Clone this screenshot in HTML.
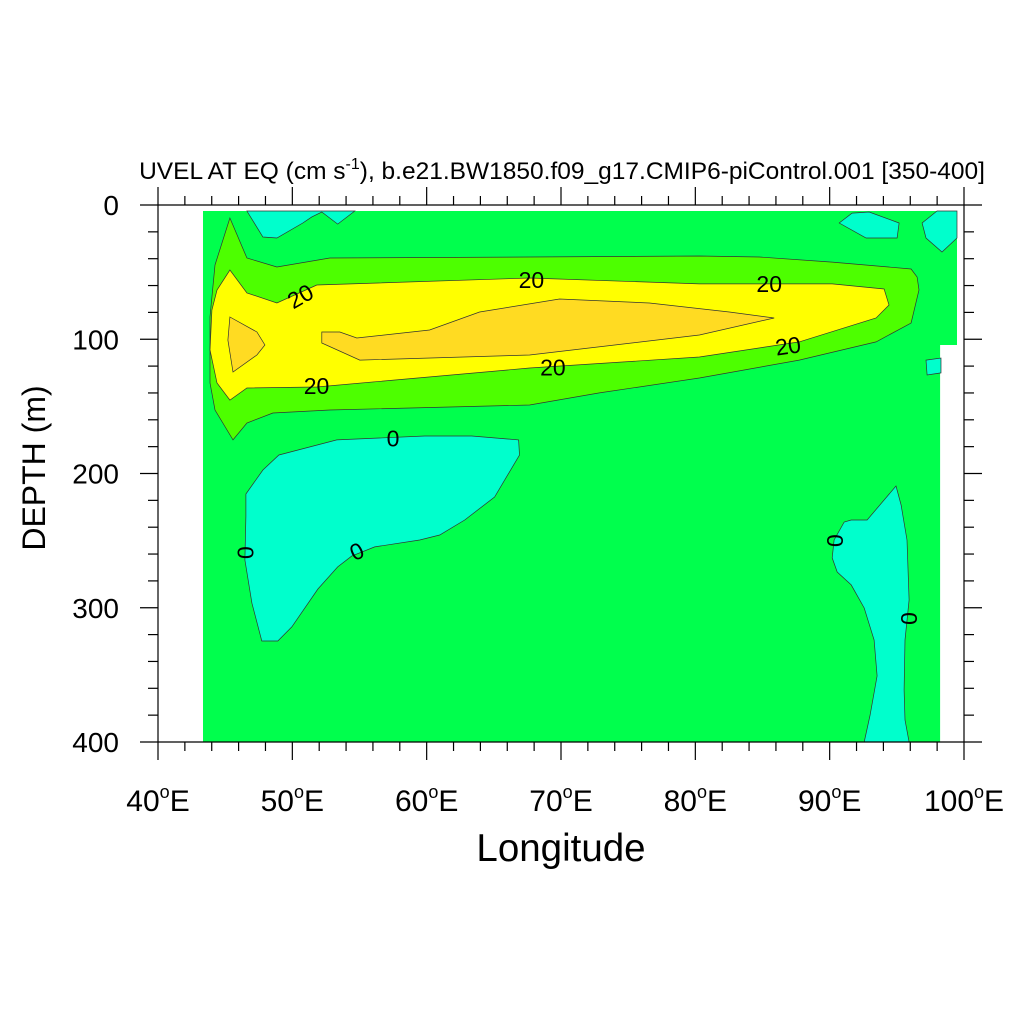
<!DOCTYPE html>
<html><head><meta charset="utf-8"><style>
body{margin:0;background:#fff}
svg{display:block;font-family:"Liberation Sans",sans-serif}
</style></head><body>
<svg id="chart" width="1024" height="1024" viewBox="0 0 1024 1024">
<rect width="1024" height="1024" fill="#fff"/>
<g id="fills"></g>
<g id="labels"></g>
<g id="axes"></g>
<text x="562" y="179" font-size="24.5" text-anchor="middle">UVEL AT EQ (cm s<tspan dy="-10" font-size="16">-1</tspan><tspan dy="10">), b.e21.BW1850.f09_g17.CMIP6-piControl.001 [350-400]</tspan></text>
<text x="561" y="861" font-size="38.5" text-anchor="middle">Longitude</text>
<text transform="translate(45,468) rotate(-90)" font-size="32" text-anchor="middle">DEPTH (m)</text>
</svg>
<script>
const xTicks=[40,50,60,70,80,90,100];
const yTicks=[0,100,200,300,400];
const oceanLon=[43.35,99.48,99.48,98.22,98.22,43.35];
const oceanDep=[4.5,4.5,104.3,104.3,400,400];
const lightGreenLon=[45.35,46.62,48.85,52.79,67.66,80.3,84.76,90.19,96.06,96.51,96.65,96.06,93.46,87.73,80.3,72.86,67.66,52.79,48.55,46.62,45.58,44.24,43.87,43.87,44.24];
const lightGreenDep=[9.7,39.5,46.2,39.5,38.7,38,38.7,42.5,47.7,53.6,63.3,87.9,102,115.5,128.9,140,149,152.7,154.9,162.4,175,152.7,132.6,83.4,44.7];
const yellowLon=[45.35,46.62,48.85,51.82,67.66,80.3,90.19,94.05,94.42,93.46,87.73,80.3,67.66,51.82,46.62,45.35,44.39,43.87,44.01,44.39];
const yellowDep=[48.4,65.5,73,59.6,54.4,58.8,58.8,62.6,74.5,84.2,102,113.2,121.4,135.6,136.3,145.3,132.6,108,78.2,63.3];
const orangeLon=[52.19,53.53,54.8,60.22,63.94,69.89,76.58,82.53,85.87,80.3,67.66,55.02,52.19];
const orangeDep=[94.6,94.6,99.1,93.1,79.7,70,73,79.7,84.2,96.8,111.7,115.5,102.8];
const orange2Lon=[45.35,47.36,47.96,47.36,45.58,45.2];
const orange2Dep=[83.4,94.6,104.3,111.7,124.4,100.6];
const cyanTLLon=[46.62,47.81,48.85,50.78,51.45,52.19,53.38,54.65];
const cyanTLDep=[4.5,23.8,24.6,13.4,8.9,5.2,14.2,4.5];
const cyanTR1Lon=[90.71,91.67,92.94,95.17,95.02,92.71];
const cyanTR1Dep=[13.4,6,5.2,13.4,24.6,24.6];
const cyanTR2Lon=[97.99,96.88,97.17,98.36,99.48,99.48];
const cyanTR2Dep=[4.5,13.4,24.6,35,24.6,4.5];
const cyanSmLon=[97.17,98.29,98.29,97.25];
const cyanSmDep=[115.5,114,125.1,126.6];
const cyanLLLon=[47.73,48.92,49.96,51.9,53.38,54.42,56.13,59.48,60.97,62.83,65.06,66.91,66.84,63.35,59.85,53.31,49.0,47.81,46.54,46.54,46.47,46.99];
const cyanLLDep=[324.8,324.8,314.3,286,269.6,261.5,254.7,249.5,245.8,234.6,217.5,186.2,175,172.1,172.1,175,186.2,197.4,215.3,231.7,264.4,296.5];
const cyanLRLon=[92.57,93.01,93.53,93.31,92.57,91.6,90.56,90.19,90.33,91.08,91.6,92.79,94.94,95.32,95.76,95.91,95.61,95.54,95.61,95.91];
const cyanLRDep=[400,379.9,350.8,324,300.2,283,273.4,262.9,249.5,236.1,234.6,234.6,209.3,223.5,249.5,294.2,324,361.3,383.6,400];
const labelText=["20","20","20","20","20","20","0","0","0","0","0"];
const labelLon=[50.6,67.8,85.5,51.8,69.4,86.9,57.5,46.5,54.8,90.4,95.9];
const labelDep=[68,56,59,135,121,105,174,259,258,250,308];
const labelRot=[-30,0,0,0,0,-8,0,90,-25,90,90];

const X0=158,X1=964,Y0=205,Y1=742;
const sx=l=>X0+(l-40)/60*(X1-X0);
const sy=d=>Y0+d/400*(Y1-Y0);
const NS="http://www.w3.org/2000/svg";
const fills=document.getElementById('fills');
function poly(lons,deps,color,name,stroke){
  const p=document.createElementNS(NS,'polygon');
  p.setAttribute('points',lons.map((l,i)=>sx(l).toFixed(1)+','+sy(deps[i]).toFixed(1)).join(' '));
  p.setAttribute('fill',color);
  p.setAttribute('stroke',stroke?'#333':'none');
  p.setAttribute('stroke-width','0.7');
  
  
  fills.appendChild(p);
}
poly(oceanLon,oceanDep,'#00ff4d','ocean-fill-0-10',false);
poly(lightGreenLon,lightGreenDep,'#4dff00','contour-10-20',true);
poly(yellowLon,yellowDep,'#ffff00','contour-20-30',true);
poly(orangeLon,orangeDep,'#ffdb22','contour-30-40-main',true);
poly(orange2Lon,orange2Dep,'#ffdb22','contour-30-40-west',true);
poly(cyanTLLon,cyanTLDep,'#00ffcc','negative-top-west',true);
poly(cyanTR1Lon,cyanTR1Dep,'#00ffcc','negative-top-east',true);
poly(cyanTR2Lon,cyanTR2Dep,'#00ffcc','negative-top-far-east',true);
poly(cyanSmLon,cyanSmDep,'#00ffcc','negative-small-east',true);
poly(cyanLLLon,cyanLLDep,'#00ffcc','undercurrent-west',true);
poly(cyanLRLon,cyanLRDep,'#00ffcc','undercurrent-east',true);

const lg=document.getElementById('labels');
labelText.forEach((t,i)=>{
  const e=document.createElementNS(NS,'text');
  const x=sx(labelLon[i]),y=sy(labelDep[i]);
  e.setAttribute('x',x);e.setAttribute('y',y+8);
  e.setAttribute('font-size','23');e.setAttribute('text-anchor','middle');
  e.setAttribute('transform','rotate('+labelRot[i]+' '+x+' '+y+')');
  e.textContent=t;
  
  
  lg.appendChild(e);
});

const ax=document.getElementById('axes');
function line(x1,y1,x2,y2,name){
  const l=document.createElementNS(NS,'line');
  l.setAttribute('x1',x1);l.setAttribute('y1',y1);l.setAttribute('x2',x2);l.setAttribute('y2',y2);
  l.setAttribute('stroke','#000');l.setAttribute('stroke-width','1.2');
  
  
  ax.appendChild(l);
}
line(X0,Y0,X1,Y0,'top-axis');line(X0,Y1,X1,Y1,'bottom-axis');
line(X0,Y0,X0,Y1,'left-axis');line(X1,Y0,X1,Y1,'right-axis');
for(let l=40;l<=100;l+=2){
  const x=sx(l),maj=(l%10===0),len=maj?18:9;
  line(x,Y1,x,Y1+len,'x-tick');line(x,Y0,x,Y0-len,'x-tick-top');
}
for(let d=0;d<=400;d+=20){
  const y=sy(d),maj=(d%100===0),len=maj?18:10;
  line(X0,y,X0-len,y,'y-tick');line(X1,y,X1+len,y,'y-tick-right');
}
xTicks.forEach(v=>{
  const t=document.createElementNS(NS,'text');
  t.setAttribute('x',sx(v));t.setAttribute('y',811);
  t.setAttribute('font-size','30');t.setAttribute('text-anchor','middle');
  t.innerHTML=v+'<tspan dy="-13" font-size="18">o</tspan><tspan dy="13">E</tspan>';
  
  
  ax.appendChild(t);
});
yTicks.forEach(v=>{
  const t=document.createElementNS(NS,'text');
  t.setAttribute('x',119);t.setAttribute('y',sy(v)+10);
  t.setAttribute('font-size','28');t.setAttribute('text-anchor','end');
  t.textContent=v;
  
  
  ax.appendChild(t);
});
</script>
</body></html>
